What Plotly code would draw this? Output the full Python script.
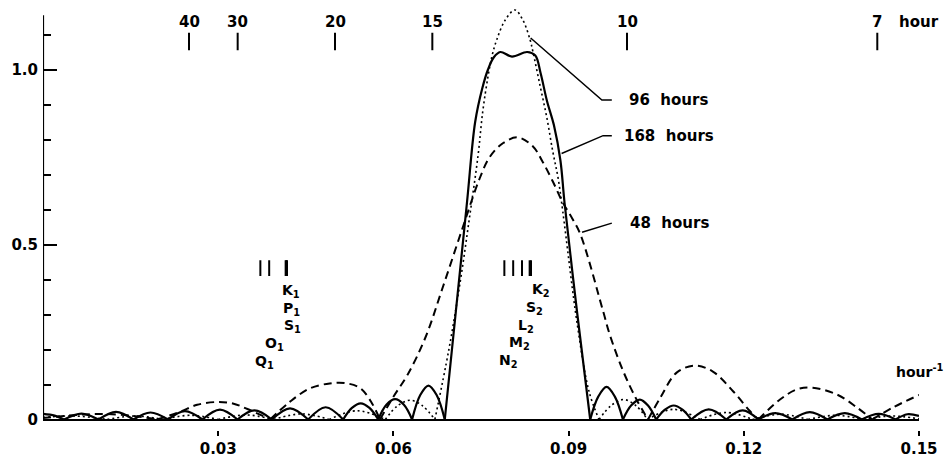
import plotly.graph_objects as go

# ---------------- data ----------------
# 168-hour filter response (solid); None separates the |lobes|
freq_168 = [0, 0.002, 0.0036, None,
            0.0036, 0.0066, 0.0095, None,
            0.0095, 0.0125, 0.0155, None,
            0.0155, 0.0184, 0.0214, None,
            0.0214, 0.0243, 0.0273, None,
            0.0273, 0.0303, 0.0333, None,
            0.0333, 0.0362, 0.0392, None,
            0.0392, 0.0423, 0.0454, None,
            0.0454, 0.0484, 0.0514, None,
            0.0514, 0.0529, 0.0544, 0.0559, 0.0574, None,
            0.0574, 0.0588, 0.0603, 0.0618, 0.0632, None,
            0.0632, 0.0646, 0.066, 0.0674, 0.0688, None,
            0.0688, 0.0707, 0.0726, 0.074, 0.0752, 0.0762, 0.0772, 0.0783, 0.0803,
            0.0829, 0.0843, 0.0852, 0.0863, 0.0875, 0.0886, 0.0893, 0.0915, 0.0937, None,
            0.0937, 0.0951, 0.0965, 0.0979, 0.0993, None,
            0.0993, 0.1007, 0.1022, 0.1036, 0.105, None,
            0.105, 0.1065, 0.108, 0.1095, 0.111, None,
            0.111, 0.114, 0.117, None,
            0.117, 0.1198, 0.1225, None,
            0.1225, 0.1254, 0.1283, None,
            0.1283, 0.1313, 0.1343, None,
            0.1343, 0.1373, 0.1402, None,
            0.1402, 0.1431, 0.146, None,
            0.146, 0.148, 0.15]
resp_168 = [0.016, 0.011, 0, None,
            0, 0.017, 0, None,
            0, 0.022, 0, None,
            0, 0.02, 0, None,
            0, 0.024, 0, None,
            0, 0.028, 0, None,
            0, 0.026, 0, None,
            0, 0.032, 0, None,
            0, 0.035, 0, None,
            0, 0.033, 0.046, 0.033, 0, None,
            0, 0.042, 0.058, 0.042, 0, None,
            0, 0.07, 0.097, 0.07, 0, None,
            0, 0.31, 0.62, 0.85, 0.945, 1.0, 1.035, 1.05, 1.037,
            1.05, 1.04, 0.99, 0.91, 0.84, 0.74, 0.62, 0.3, 0, None,
            0, 0.066, 0.093, 0.066, 0, None,
            0, 0.04, 0.057, 0.04, 0, None,
            0, 0.028, 0.04, 0.028, 0, None,
            0, 0.029, 0, None,
            0, 0.026, 0, None,
            0, 0.018, 0, None,
            0, 0.021, 0, None,
            0, 0.018, 0, None,
            0, 0.016, 0, None,
            0, 0.015, 0.01]

# 96-hour filter response (dotted)
freq_96 = [0, 0.0055, 0.011, None,
           0.011, 0.0158, 0.0205, None,
           0.0205, 0.0253, 0.030, None,
           0.030, 0.0348, 0.0395, None,
           0.0395, 0.0443, 0.049, None,
           0.049, 0.0538, 0.0586, None,
           0.0586, 0.0607, 0.0629, 0.065, 0.0671, None,
           0.0671, 0.0695, 0.0715, 0.0731, 0.0745, 0.0753, 0.0762, 0.0769, 0.0777, 0.0791,
           0.0808, 0.0822, 0.0834, 0.0839, 0.0851, 0.0863, 0.0873, 0.0882, 0.089,
           0.0915, 0.0935, 0.0952, None,
           0.0952, 0.0973, 0.0994, 0.1015, 0.1035, None,
           0.1035, 0.108, 0.1125, None,
           0.1125, 0.117, 0.1215, None,
           0.1215, 0.1263, 0.131, None,
           0.131, 0.1358, 0.1405, None,
           0.1405, 0.1453, 0.15]
resp_96 = [0.006, 0.01, 0, None,
           0, 0.01, 0, None,
           0, 0.012, 0, None,
           0, 0.013, 0, None,
           0, 0.016, 0, None,
           0, 0.025, 0, None,
           0, 0.039, 0.055, 0.039, 0, None,
           0, 0.2, 0.4, 0.585, 0.755, 0.88, 0.98, 1.04, 1.085, 1.14,
           1.17, 1.14, 1.085, 1.05, 0.955, 0.86, 0.765, 0.69, 0.595,
           0.27, 0.08, 0, None,
           0, 0.04, 0.057, 0.04, 0, None,
           0, 0.029, 0, None,
           0, 0.02, 0, None,
           0, 0.015, 0, None,
           0, 0.012, 0, None,
           0, 0.01, 0.002]

# 48-hour filter response (dashed)
freq_48 = [0, 0.005, 0.0098, 0.015, 0.0195, None,
           0.0195, 0.0235, 0.0264, 0.0298, 0.0325, 0.035, 0.0389, None,
           0.0389, 0.0423, 0.0457, 0.0491, 0.0517, 0.0543, 0.0562, 0.0577, None,
           0.0577, 0.06, 0.0625, 0.0655, 0.0685, 0.0717, 0.0748, 0.0765, 0.0788, 0.0813,
           0.0839, 0.0856, 0.0873, 0.089, 0.0906, 0.092, 0.0959, 0.097, 0.0993, 0.1017, 0.1036, None,
           0.1036, 0.1058, 0.1085, 0.1116, 0.1147, 0.1182, 0.121, 0.1225, None,
           0.1225, 0.1262, 0.1291, 0.1318, 0.136, 0.1394, 0.142, None,
           0.142, 0.1455, 0.15]
resp_48 = [0.004, 0.012, 0.016, 0.011, 0, None,
           0, 0.022, 0.042, 0.05, 0.046, 0.03, 0, None,
           0, 0.051, 0.089, 0.103, 0.104, 0.09, 0.05, 0, None,
           0, 0.065, 0.13, 0.235, 0.38, 0.54, 0.69, 0.75, 0.79, 0.806,
           0.78, 0.735, 0.68, 0.62, 0.575, 0.53, 0.31, 0.245, 0.14, 0.055, 0, None,
           0, 0.065, 0.134, 0.154, 0.137, 0.08, 0.025, 0, None,
           0, 0.057, 0.086, 0.091, 0.071, 0.034, 0, None,
           0, 0.034, 0.07]

# period marks along the top (hours)
periods = [40, 30, 20, 15, 10, 7]
period_labels = ["40", "30", "20", "15", "10", "7"]

# tidal constituents (cycles per hour)
diurnal_names = ["Q<sub>1</sub>", "O<sub>1</sub>", "S<sub>1</sub>", "P<sub>1</sub>", "K<sub>1</sub>"]
diurnal_freq = [0.03722, 0.03873, 0.04167, 0.04155, 0.04178]
semidiurnal_names = ["N<sub>2</sub>", "M<sub>2</sub>", "L<sub>2</sub>", "S<sub>2</sub>", "K<sub>2</sub>"]
semidiurnal_freq = [0.07900, 0.08051, 0.08202, 0.08333, 0.08356]

x_ticks = [0.03, 0.06, 0.09, 0.12, 0.15]
x_ticktext = ["0.03", "0.06", "0.09", "0.12", "0.15"]
y_major = [0, 0.5, 1.0]
y_major_text = ["0", "0.5", "1.0"]
y_minor = [0.1, 0.2, 0.3, 0.4, 0.6, 0.7, 0.8, 0.9, 1.1]

# ---------------- figure ----------------
FONT = "DejaVu Sans"
fig = go.Figure()

fig.add_trace(go.Scatter(x=freq_48, y=resp_48, mode="lines", line_shape="spline",
                         line=dict(color="black", width=2, dash="8px,5px"),
                         connectgaps=False, hoverinfo="skip"))
fig.add_trace(go.Scatter(x=freq_96, y=resp_96, mode="lines", line_shape="spline",
                         line=dict(color="black", width=1.6, dash="2px,3px"),
                         connectgaps=False, hoverinfo="skip"))
fig.add_trace(go.Scatter(x=freq_168, y=resp_168, mode="lines", line_shape="spline",
                         line=dict(color="black", width=2.2),
                         connectgaps=False, hoverinfo="skip"))

# top period tick marks
px, py = [], []
for p in periods:
    px += [1.0 / p, 1.0 / p, None]
    py += [1.055, 1.105, None]
fig.add_trace(go.Scatter(x=px, y=py, mode="lines", line=dict(color="black", width=2),
                         hoverinfo="skip"))

# constituent marks
def marks(freqs):
    mx, my = [], []
    for f in freqs:
        mx += [f, f, None]
        my += [0.41, 0.455, None]
    return mx, my

for fr in (diurnal_freq, semidiurnal_freq):
    mx, my = marks(fr)
    fig.add_trace(go.Scatter(x=mx, y=my, mode="lines", line=dict(color="black", width=2),
                             hoverinfo="skip"))

# leader lines for curve labels
leaders = [
    ([0.0835, 0.0957, 0.0974], [1.09, 0.913, 0.913]),
    ([0.0888, 0.0959, 0.0974], [0.76, 0.811, 0.811]),
    ([0.0923, 0.0974], [0.535, 0.561]),
]
for lx, ly in leaders:
    fig.add_trace(go.Scatter(x=lx, y=ly, mode="lines", line=dict(color="black", width=1.5),
                             hoverinfo="skip"))

ann = []
tf = dict(family=FONT, size=15, color="black", weight="bold")
sf = dict(family=FONT, size=14, color="black", weight="bold")
for p, t in zip(periods, period_labels):
    ann.append(dict(x=1.0 / p, y=1.136, text=t, xanchor="center", yanchor="middle", font=tf))
ann.append(dict(x=0.1462, y=1.136, text="hour", xanchor="left", yanchor="middle", font=tf))
ann.append(dict(x=0.1000, y=0.913, text="96  hours", xanchor="left", yanchor="middle", font=tf))
ann.append(dict(x=0.0991, y=0.811, text="168  hours", xanchor="left", yanchor="middle", font=tf))
ann.append(dict(x=0.1002, y=0.561, text="48  hours", xanchor="left", yanchor="middle", font=tf))
ann.append(dict(x=0.1457, y=0.138, text="hour<sup>-1</sup>", xanchor="left", yanchor="middle",
                font=dict(family=FONT, size=14, color="black", weight="bold")))

diurnal_pos = [(0.0360, 0.164), (0.0377, 0.217), (0.0409, 0.266), (0.0408, 0.316), (0.0406, 0.368)]
semi_pos = [(0.0777, 0.166), (0.0795, 0.218), (0.0810, 0.268), (0.0824, 0.318), (0.0834, 0.37)]
for name, (ax_, ay_) in zip(diurnal_names + semidiurnal_names, diurnal_pos + semi_pos):
    ann.append(dict(x=ax_, y=ay_, text=name, xanchor="left", yanchor="middle", font=sf))
for a in ann:
    a.update(showarrow=False, xref="x", yref="y")

fig.update_layout(
    width=948, height=459,
    margin=dict(l=43, r=29, t=3, b=29, autoexpand=False),
    paper_bgcolor="white", plot_bgcolor="white",
    showlegend=False,
    annotations=ann,
    shapes=[dict(type="line", xref="x", yref="y", x0=0, x1=0, y0=0, y1=1.155,
                 line=dict(color="black", width=2.2))],
    font=dict(family=FONT, size=15, color="black", weight="bold"),
)
fig.update_xaxes(range=[0, 0.15], showgrid=False, zeroline=False, showline=False,
                 automargin=False,
                 tickvals=x_ticks, ticktext=x_ticktext, ticks="outside", ticklen=5,
                 tickwidth=1.5, tickcolor="black",
                 tickfont=dict(family=FONT, size=15, color="black", weight="bold"))
fig.update_yaxes(range=[-0.03, 1.19], showgrid=False, zeroline=True, zerolinecolor="black",
                 zerolinewidth=2, showline=False, automargin=False,
                 tickvals=y_major, ticktext=y_major_text, ticks="inside", ticklen=14,
                 tickwidth=2, tickcolor="black", ticklabelstandoff=4,
                 minor=dict(tickvals=y_minor, ticks="inside", ticklen=8, tickwidth=2,
                            tickcolor="black"),
                 tickfont=dict(family=FONT, size=15, color="black", weight="bold"))

fig.write_html("out.html", config={"displayModeBar": False},
               post_script="document.body.style.margin='0px';document.body.style.overflow='hidden';")
